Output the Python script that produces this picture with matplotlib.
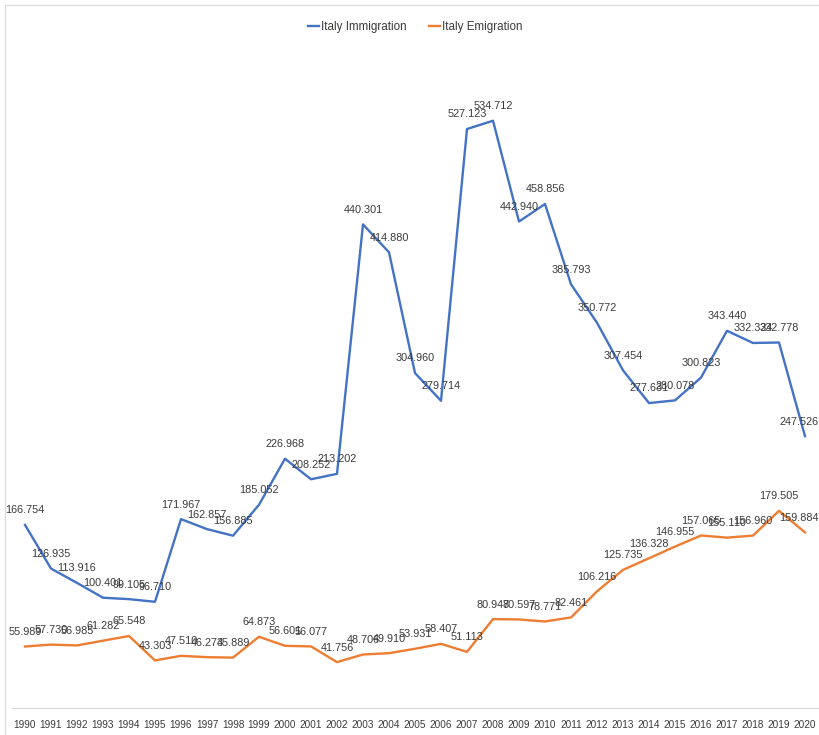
import matplotlib
matplotlib.use("Agg")
import matplotlib.pyplot as plt
from matplotlib import font_manager
from matplotlib.patches import Rectangle

# Italy migration flows (thousands), 1990-2020
years = list(range(1990, 2021))
immigration = [166.754, 126.935, 113.916, 100.401, 99.105, 96.710, 171.967,
               162.857, 156.885, 185.052, 226.968, 208.252, 213.202, 440.301,
               414.880, 304.960, 279.714, 527.123, 534.712, 442.940, 458.856,
               385.793, 350.772, 307.454, 277.631, 280.078, 300.823, 343.440,
               332.324, 332.778, 247.526]
emigration = [55.989, 57.730, 56.985, 61.282, 65.548, 43.303, 47.510, 46.273,
              45.889, 64.873, 56.601, 56.077, 41.756, 48.706, 49.910, 53.931,
              58.407, 51.113, 80.947, 80.597, 78.771, 82.461, 106.216, 125.735,
              136.328, 146.955, 157.065, 155.110, 156.960, 179.505, 159.884]
series_names = ["Italy Immigration", "Italy Emigration"]

BLUE = "#4472C4"
ORANGE = "#ED7D31"
TEXT = "#3A3A3A"

# pick the narrowest sans family that is available
installed = {f.name for f in font_manager.fontManager.ttflist}
narrow = next((n for n in ("Liberation Sans Narrow", "Liberation Sans",
                           "Roboto", "Lato") if n in installed), "DejaVu Sans")
plt.rcParams["font.family"] = [narrow, "DejaVu Sans"]

W, H = 819, 735
fig = plt.figure(figsize=(W / 100, H / 100), dpi=100)

# light chart border
fig.patches.append(Rectangle((5 / W, -0.1), 1.2, 1 - 5 / H + 0.1,
                             transform=fig.transFigure, fill=False,
                             edgecolor="#D9D9D9", linewidth=0.8))

ax = fig.add_axes([12 / W, (H - 708) / H, (818 - 12) / W, 659 / H])
ax.set_xlim(1989.5, 2020.5)
ax.set_ylim(0, 600)

ax.plot(years, immigration, color=BLUE, lw=1.7, label=series_names[0])
ax.plot(years, emigration, color=ORANGE, lw=1.7, label=series_names[1])

for series in (immigration, emigration):
    for x, v in zip(years, series):
        last = x == years[-1]
        # keep the final label inside the chart's right edge
        ax.annotate(f"{v:.3f}", (x, v), xytext=(9.5 if last else 0, 10.5),
                    textcoords="offset points",
                    ha="right" if last else "center", va="center",
                    fontsize=7.8, color=TEXT, annotation_clip=False)

for s in ("top", "right", "left"):
    ax.spines[s].set_visible(False)
ax.spines["bottom"].set_color("#D9D9D9")
ax.spines["bottom"].set_linewidth(0.8)
ax.set_yticks([])
ax.set_xticks(years)
ax.set_xticklabels([str(y) for y in years], fontsize=7.2, color=TEXT)
ax.tick_params(axis="x", length=0, pad=8.5)

fig.legend(loc="center", bbox_to_anchor=(0.507, 1 - 27 / H), ncol=2,
           frameon=False, fontsize=8.4, handlelength=0.9, handletextpad=0.15,
           columnspacing=2.0, labelcolor=TEXT)

fig.savefig("out.png", dpi=100)
